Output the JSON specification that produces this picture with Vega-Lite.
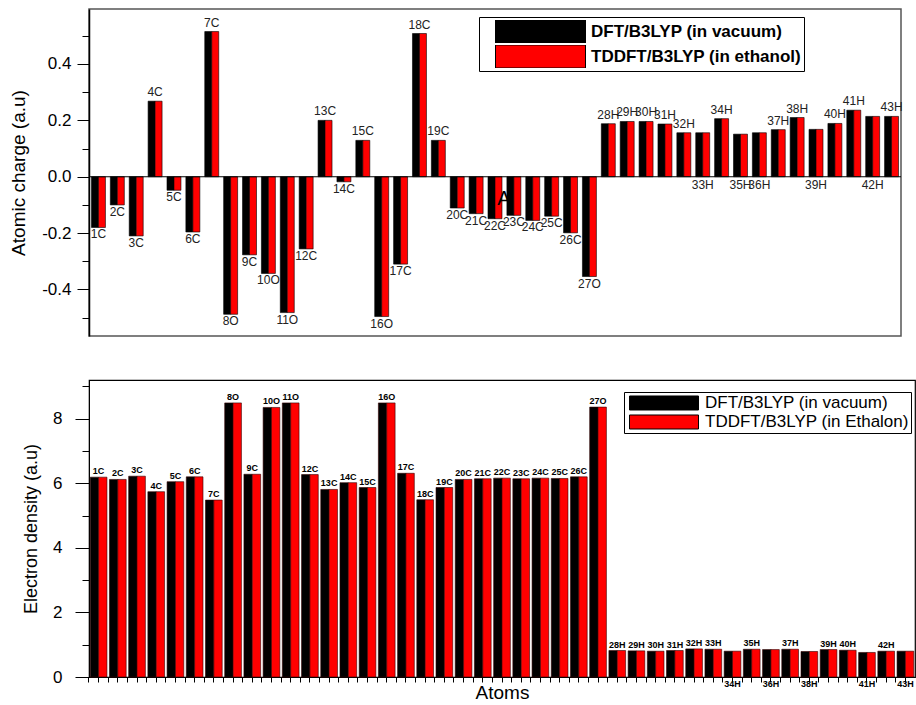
{
  "$schema": "https://vega.github.io/schema/vega-lite/v6.json",
  "padding": {"left": 8, "top": 8, "right": 0, "bottom": 0},
  "background": "#ffffff",
  "config": {
    "font": "Liberation Sans",
    "axis": {"grid": false, "domainColor": "#000", "tickColor": "#000", "labelColor": "#000", "titleColor": "#000", "titleFontWeight": "normal"},
    "text": {"font": "Liberation Sans"}
  },
  "datasets": {
    "atoms": [
      {"atom":"1C","n":1,"m":"DFT","q":-0.18,"d":6.19},{"atom":"1C","n":1,"m":"TDDFT","q":-0.18,"d":6.19},
      {"atom":"2C","n":2,"m":"DFT","q":-0.10,"d":6.12},{"atom":"2C","n":2,"m":"TDDFT","q":-0.10,"d":6.12},
      {"atom":"3C","n":3,"m":"DFT","q":-0.21,"d":6.22},{"atom":"3C","n":3,"m":"TDDFT","q":-0.21,"d":6.22},
      {"atom":"4C","n":4,"m":"DFT","q":0.268,"d":5.74},{"atom":"4C","n":4,"m":"TDDFT","q":0.268,"d":5.74},
      {"atom":"5C","n":5,"m":"DFT","q":-0.048,"d":6.05},{"atom":"5C","n":5,"m":"TDDFT","q":-0.048,"d":6.05},
      {"atom":"6C","n":6,"m":"DFT","q":-0.196,"d":6.20},{"atom":"6C","n":6,"m":"TDDFT","q":-0.196,"d":6.20},
      {"atom":"7C","n":7,"m":"DFT","q":0.515,"d":5.48},{"atom":"7C","n":7,"m":"TDDFT","q":0.515,"d":5.48},
      {"atom":"8O","n":8,"m":"DFT","q":-0.488,"d":8.49},{"atom":"8O","n":8,"m":"TDDFT","q":-0.488,"d":8.49},
      {"atom":"9C","n":9,"m":"DFT","q":-0.277,"d":6.28},{"atom":"9C","n":9,"m":"TDDFT","q":-0.277,"d":6.28},
      {"atom":"10O","n":10,"m":"DFT","q":-0.343,"d":8.35},{"atom":"10O","n":10,"m":"TDDFT","q":-0.343,"d":8.35},
      {"atom":"11O","n":11,"m":"DFT","q":-0.482,"d":8.49},{"atom":"11O","n":11,"m":"TDDFT","q":-0.482,"d":8.49},
      {"atom":"12C","n":12,"m":"DFT","q":-0.256,"d":6.27},{"atom":"12C","n":12,"m":"TDDFT","q":-0.256,"d":6.27},
      {"atom":"13C","n":13,"m":"DFT","q":0.200,"d":5.81},{"atom":"13C","n":13,"m":"TDDFT","q":0.200,"d":5.81},
      {"atom":"14C","n":14,"m":"DFT","q":-0.018,"d":6.02},{"atom":"14C","n":14,"m":"TDDFT","q":-0.018,"d":6.02},
      {"atom":"15C","n":15,"m":"DFT","q":0.129,"d":5.87},{"atom":"15C","n":15,"m":"TDDFT","q":0.129,"d":5.87},
      {"atom":"16O","n":16,"m":"DFT","q":-0.496,"d":8.49},{"atom":"16O","n":16,"m":"TDDFT","q":-0.496,"d":8.49},
      {"atom":"17C","n":17,"m":"DFT","q":-0.310,"d":6.31},{"atom":"17C","n":17,"m":"TDDFT","q":-0.310,"d":6.31},
      {"atom":"18C","n":18,"m":"DFT","q":0.508,"d":5.49},{"atom":"18C","n":18,"m":"TDDFT","q":0.508,"d":5.49},
      {"atom":"19C","n":19,"m":"DFT","q":0.129,"d":5.87},{"atom":"19C","n":19,"m":"TDDFT","q":0.129,"d":5.87},
      {"atom":"20C","n":20,"m":"DFT","q":-0.111,"d":6.12},{"atom":"20C","n":20,"m":"TDDFT","q":-0.111,"d":6.12},
      {"atom":"21C","n":21,"m":"DFT","q":-0.131,"d":6.14},{"atom":"21C","n":21,"m":"TDDFT","q":-0.131,"d":6.14},
      {"atom":"22C","n":22,"m":"DFT","q":-0.149,"d":6.16},{"atom":"22C","n":22,"m":"TDDFT","q":-0.149,"d":6.16},
      {"atom":"23C","n":23,"m":"DFT","q":-0.137,"d":6.14},{"atom":"23C","n":23,"m":"TDDFT","q":-0.137,"d":6.14},
      {"atom":"24C","n":24,"m":"DFT","q":-0.155,"d":6.16},{"atom":"24C","n":24,"m":"TDDFT","q":-0.155,"d":6.16},
      {"atom":"25C","n":25,"m":"DFT","q":-0.140,"d":6.15},{"atom":"25C","n":25,"m":"TDDFT","q":-0.140,"d":6.15},
      {"atom":"26C","n":26,"m":"DFT","q":-0.199,"d":6.20},{"atom":"26C","n":26,"m":"TDDFT","q":-0.199,"d":6.20},
      {"atom":"27O","n":27,"m":"DFT","q":-0.354,"d":8.36},{"atom":"27O","n":27,"m":"TDDFT","q":-0.354,"d":8.36},
      {"atom":"28H","n":28,"m":"DFT","q":0.188,"d":0.82},{"atom":"28H","n":28,"m":"TDDFT","q":0.188,"d":0.82},
      {"atom":"29H","n":29,"m":"DFT","q":0.196,"d":0.81},{"atom":"29H","n":29,"m":"TDDFT","q":0.196,"d":0.81},
      {"atom":"30H","n":30,"m":"DFT","q":0.196,"d":0.80},{"atom":"30H","n":30,"m":"TDDFT","q":0.196,"d":0.80},
      {"atom":"31H","n":31,"m":"DFT","q":0.187,"d":0.82},{"atom":"31H","n":31,"m":"TDDFT","q":0.187,"d":0.82},
      {"atom":"32H","n":32,"m":"DFT","q":0.156,"d":0.87},{"atom":"32H","n":32,"m":"TDDFT","q":0.156,"d":0.87},
      {"atom":"33H","n":33,"m":"DFT","q":0.156,"d":0.86},{"atom":"33H","n":33,"m":"TDDFT","q":0.156,"d":0.86},
      {"atom":"34H","n":34,"m":"DFT","q":0.206,"d":0.80},{"atom":"34H","n":34,"m":"TDDFT","q":0.206,"d":0.80},
      {"atom":"35H","n":35,"m":"DFT","q":0.151,"d":0.86},{"atom":"35H","n":35,"m":"TDDFT","q":0.151,"d":0.86},
      {"atom":"36H","n":36,"m":"DFT","q":0.156,"d":0.85},{"atom":"36H","n":36,"m":"TDDFT","q":0.156,"d":0.85},
      {"atom":"37H","n":37,"m":"DFT","q":0.167,"d":0.86},{"atom":"37H","n":37,"m":"TDDFT","q":0.167,"d":0.86},
      {"atom":"38H","n":38,"m":"DFT","q":0.210,"d":0.79},{"atom":"38H","n":38,"m":"TDDFT","q":0.210,"d":0.79},
      {"atom":"39H","n":39,"m":"DFT","q":0.168,"d":0.85},{"atom":"39H","n":39,"m":"TDDFT","q":0.168,"d":0.85},
      {"atom":"40H","n":40,"m":"DFT","q":0.189,"d":0.83},{"atom":"40H","n":40,"m":"TDDFT","q":0.189,"d":0.83},
      {"atom":"41H","n":41,"m":"DFT","q":0.236,"d":0.76},{"atom":"41H","n":41,"m":"TDDFT","q":0.236,"d":0.76},
      {"atom":"42H","n":42,"m":"DFT","q":0.214,"d":0.80},{"atom":"42H","n":42,"m":"TDDFT","q":0.214,"d":0.80},
      {"atom":"43H","n":43,"m":"DFT","q":0.214,"d":0.80},{"atom":"43H","n":43,"m":"TDDFT","q":0.214,"d":0.80}
    ]
  },
  "spacing": 42,
  "resolve": {"scale": {"color": "independent", "x": "independent", "y": "independent", "xOffset": "independent"}, "legend": {"color": "independent"}},
  "vconcat": [
    {
      "width": 812,
      "height": 327,
      "view": {"stroke": "#555", "strokeWidth": 1.5},
      "data": {"name": "atoms"},
      "resolve": {"axis": {"y": "independent"}},
      "layer": [
        {
          "mark": {"type": "bar", "stroke": "#000", "strokeWidth": 0.6},
          "encoding": {
            "x": {"field": "n", "type": "ordinal", "scale": {"paddingInner": 0.26, "paddingOuter": 0.13},
                  "axis": {"title": "Atoms", "labels": false, "ticks": false, "domain": false, "titleFontSize": 19, "titlePadding": 6}},
            "xOffset": {"field": "m", "type": "nominal", "scale": {"paddingInner": 0, "paddingOuter": 0}},
            "y": {"field": "q", "type": "quantitative", "scale": {"domain": [-0.565, 0.595], "nice": false, "zero": false},
                  "axis": {"orient": "left", "values": [-0.4, -0.2, 0, 0.2, 0.4], "tickSize": 12, "labelFontSize": 17, "labelPadding": 6,
                           "labelExpr": "replace(format(datum.value, '.1f'), '\u2212', '-')",
                           "title": "Atomic charge (a.u)", "titleFontSize": 19, "titlePadding": 13, "domainWidth": 1.5}},
            "color": {"field": "m", "type": "nominal", "scale": {"domain": ["DFT", "TDDFT"], "range": ["#000000", "#ff0000"]},
                      "legend": {"orient": "none", "legendX": 390, "legendY": 8, "title": null, "direction": "vertical",
                                 "symbolType": "M-1,-0.2556H1V0.2556H-1Z", "symbolSize": 8100, "clipHeight": 23,
                                 "symbolStrokeColor": "#000", "symbolStrokeWidth": 1, "symbolOpacity": 1,
                                 "labelFontSize": 17, "labelFontWeight": "bold", "labelColor": "#000", "labelOffset": 5, "labelLimit": 400,
                                 "padding": 3, "symbolOffset": 13, "rowPadding": 2, "strokeColor": "#000", "fillColor": "#fff",
                                 "labelExpr": "datum.label == 'DFT' ? 'DFT/B3LYP (in vacuum)' : 'TDDFT/B3LYP (in ethanol)'"}}
          }
        },
        {
          "data": {"values": [{}]},
          "mark": {"type": "rule", "color": "#000", "strokeWidth": 1.2},
          "encoding": {
            "y": {"datum": 0, "type": "quantitative",
                  "axis": {"orient": "left", "values": [-0.5, -0.3, -0.1, 0.1, 0.3, 0.5], "tickSize": 7, "labels": false, "title": null, "domain": false}}
          }
        },
        {
          "transform": [{"filter": "datum.m == 'DFT' && datum.q >= 0 && indexof(['33H','35H','36H','39H','42H'], datum.atom) < 0"}],
          "mark": {"type": "text", "baseline": "bottom", "dy": -2, "fontSize": 12, "color": "#222"},
          "encoding": {"x": {"field": "n", "type": "ordinal", "axis": null}, "y": {"field": "q", "type": "quantitative", "axis": null}, "text": {"field": "atom"}}
        },
        {
          "transform": [{"filter": "datum.m == 'DFT' && datum.q < 0"}],
          "mark": {"type": "text", "baseline": "top", "dy": 2, "fontSize": 12, "color": "#222"},
          "encoding": {"x": {"field": "n", "type": "ordinal", "axis": null}, "y": {"field": "q", "type": "quantitative", "axis": null}, "text": {"field": "atom"}}
        },
        {
          "transform": [{"filter": "datum.m == 'DFT' && indexof(['33H','35H','36H','39H','42H'], datum.atom) >= 0"}],
          "mark": {"type": "text", "baseline": "top", "dy": 3, "fontSize": 12, "color": "#222"},
          "encoding": {"x": {"field": "n", "type": "ordinal", "axis": null}, "y": {"datum": 0, "type": "quantitative", "axis": null}, "text": {"field": "atom"}}
        },
        {
          "data": {"values": [{}]},
          "mark": {"type": "text", "fontSize": 20, "text": "A", "dx": 9, "color": "#000"},
          "encoding": {"x": {"datum": 22, "type": "ordinal", "axis": null}, "y": {"datum": -0.078, "type": "quantitative", "axis": null}}
        }
      ]
    },
    {
      "width": 826,
      "height": 297,
      "view": {"stroke": "#000", "strokeWidth": 1.2},
      "data": {"name": "atoms"},
      "resolve": {"axis": {"y": "independent", "x": "independent"}},
      "layer": [
        {
          "mark": {"type": "bar", "stroke": "#300", "strokeWidth": 0.6},
          "encoding": {
            "x": {"field": "n", "type": "ordinal", "scale": {"paddingInner": 0.13, "paddingOuter": 0.065},
                  "axis": {"orient": "bottom", "title": "Atoms", "labels": false, "ticks": true, "tickSize": 5, "domain": true, "titleFontSize": 19, "titlePadding": 1}},
            "xOffset": {"field": "m", "type": "nominal", "scale": {"paddingInner": 0, "paddingOuter": 0}},
            "y": {"field": "d", "type": "quantitative", "scale": {"domain": [0, 9.2], "nice": false},
                  "axis": {"orient": "left", "values": [0, 2, 4, 6, 8], "tickSize": 14, "labelFontSize": 17, "labelPadding": 13,
                           "title": "Electron density (a.u)", "titleFontSize": 18, "titlePadding": 12}},
            "color": {"field": "m", "type": "nominal", "scale": {"domain": ["DFT", "TDDFT"], "range": ["#000000", "#ff0000"]},
                      "legend": {"orient": "none", "legendX": 535, "legendY": 12, "title": null, "direction": "vertical",
                                 "symbolType": "M-1,-0.203H1V0.203H-1Z", "symbolSize": 4761, "clipHeight": 18,
                                 "symbolStrokeColor": "#000", "symbolStrokeWidth": 1, "symbolOpacity": 1,
                                 "labelFontSize": 17, "labelColor": "#000", "labelOffset": 6, "labelLimit": 400,
                                 "padding": 2, "symbolOffset": 3, "rowPadding": 1, "strokeColor": "#000", "fillColor": "#fff",
                                 "labelExpr": "datum.label == 'DFT' ? 'DFT/B3LYP (in vacuum)' : 'TDDFT/B3LYP (in Ethalon)'"}}
          }
        },
        {
          "data": {"values": [{}]},
          "mark": {"type": "rule", "opacity": 0},
          "encoding": {
            "y": {"datum": 1, "type": "quantitative",
                  "axis": {"orient": "left", "values": [1, 3, 5, 7, 9], "tickSize": 7, "labels": false, "title": null, "domain": false}}
          }
        },
        {
          "transform": [{"filter": "datum.m == 'DFT'"}],
          "mark": {"type": "text", "opacity": 0},
          "encoding": {
            "x": {"field": "n", "type": "ordinal",
                  "axis": {"orient": "bottom", "title": null, "labels": false, "ticks": true, "tickSize": 5, "domain": false, "bandPosition": -0.075}},
            "y": {"field": "d", "type": "quantitative", "axis": null},
            "text": {"field": "atom"}
          }
        },
        {
          "transform": [{"filter": "datum.m == 'DFT' && indexof(['34H','36H','38H','41H','43H'], datum.atom) < 0"}],
          "mark": {"type": "text", "baseline": "bottom", "dy": -1, "fontSize": 9, "fontWeight": "bold", "color": "#000"},
          "encoding": {"x": {"field": "n", "type": "ordinal", "axis": null}, "y": {"field": "d", "type": "quantitative", "axis": null}, "text": {"field": "atom"}}
        },
        {
          "transform": [{"filter": "datum.m == 'DFT' && indexof(['34H','36H','38H','41H','43H'], datum.atom) >= 0"}],
          "mark": {"type": "text", "baseline": "top", "dy": 3, "fontSize": 9, "fontWeight": "bold", "color": "#000"},
          "encoding": {"x": {"field": "n", "type": "ordinal", "axis": null}, "y": {"datum": 0, "type": "quantitative", "axis": null}, "text": {"field": "atom"}}
        }
      ]
    }
  ]
}
